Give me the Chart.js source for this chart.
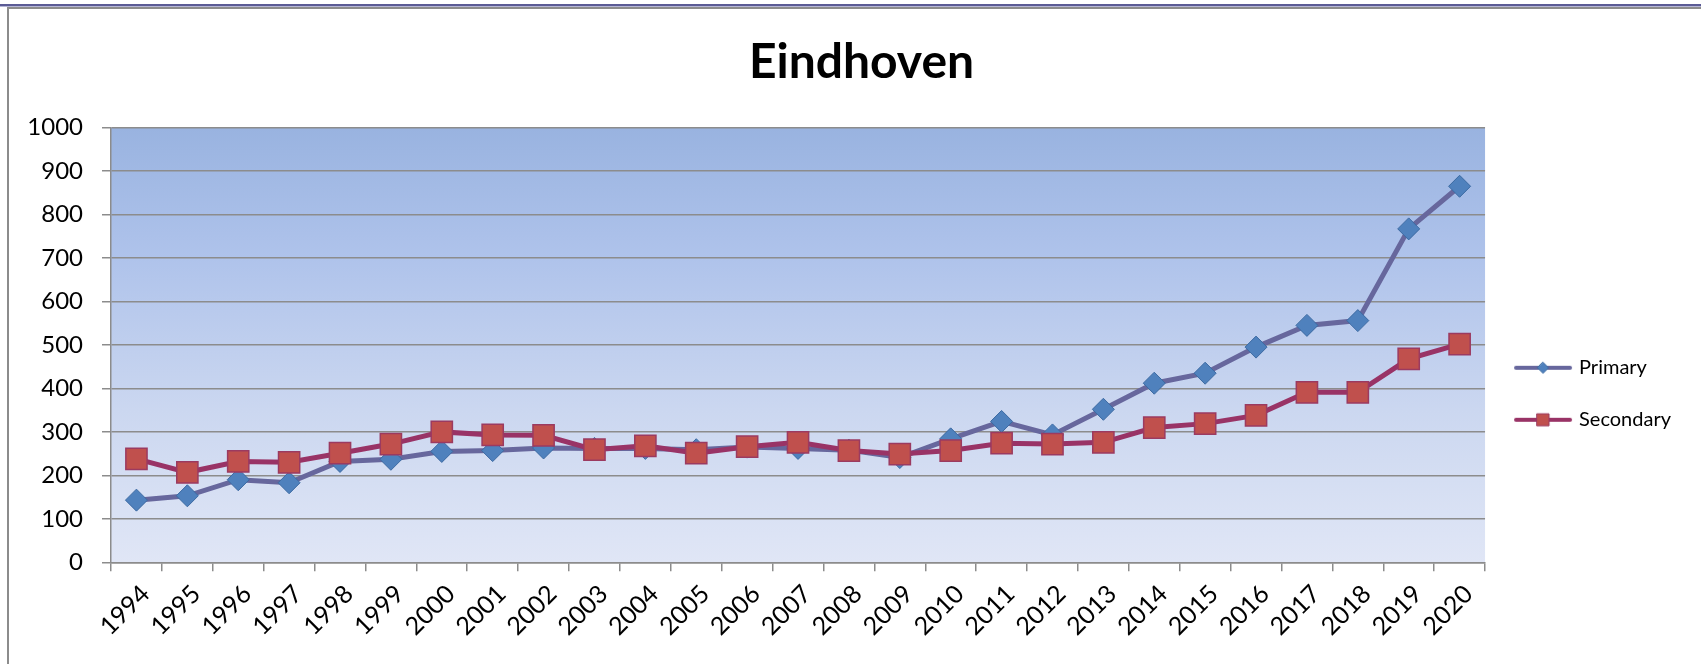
<!DOCTYPE html>
<html><head><meta charset="utf-8">
<script src="https://cdn.jsdelivr.net/npm/chart.js@4/dist/chart.umd.min.js"></script>
<style>
html,body{margin:0;padding:0;width:1701px;height:664px;overflow:hidden;background:#fff;}
#topbar{position:absolute;left:0;top:4px;width:1701px;height:2px;background:#5b5b95;}
#topbar2{position:absolute;left:0;top:6px;width:1701px;height:1px;background:#b6b6d6;}
#frame{position:absolute;left:7px;top:7px;width:1800px;height:800px;border:2px solid #8c8c8c;box-sizing:border-box;}
#c{position:absolute;left:7px;top:7px;}
</style></head>
<body>
<div id="topbar"></div><div id="topbar2"></div><div id="frame"></div>
<canvas id="c" width="1709" height="657"></canvas>
<script>
const years = ['1994','1995','1996','1997','1998','1999','2000','2001','2002','2003','2004','2005','2006','2007','2008','2009','2010','2011','2012','2013','2014','2015','2016','2017','2018','2019','2020'];
const primary = [143,153,190,183,232,237,255,257,263,262,262,259,265,262,258,241,284,324,293,352,412,435,495,545,556,767,865];
const secondary = [238,207,232,230,251,272,300,293,292,259,268,251,266,276,257,249,257,274,272,276,310,319,338,391,391,468,502];
const yMin = 0, yMax = 1000, yStep = 100;
const seriesNames = ['Primary','Secondary'];

const plotBg = {
  id: 'plotBg',
  beforeDraw(chart) {
    const {ctx, chartArea: {left, top, right, bottom}} = chart;
    const g = ctx.createLinearGradient(0, top, 0, bottom);
    g.addColorStop(0, '#99b3e0');
    g.addColorStop(0.3, '#afc3eb');
    g.addColorStop(0.65, '#cbd7f0');
    g.addColorStop(1, '#e0e6f6');
    ctx.save();
    ctx.fillStyle = g;
    ctx.fillRect(left, top, right - left, bottom - top);
    ctx.restore();
  }
};

function legendIcon(lineColor, shape, fill, stroke) {
  const c = document.createElement('canvas');
  c.width = 62; c.height = 16;
  const x = c.getContext('2d');
  x.strokeStyle = lineColor; x.lineWidth = 4; x.lineCap = 'round';
  x.beginPath(); x.moveTo(4, 8); x.lineTo(58, 8); x.stroke();
  x.fillStyle = fill; x.strokeStyle = stroke; x.lineWidth = 1;
  x.beginPath();
  if (shape === 'diamond') { x.moveTo(31, 2.5); x.lineTo(36.5, 8); x.lineTo(31, 13.5); x.lineTo(25.5, 8); x.closePath(); }
  else { x.rect(25, 2, 12, 12); }
  x.fill(); x.stroke();
  return c;
}

const styles = [
  {line: '#67679d', fill: '#4f81bd', stroke: '#3c6aa2', shape: 'diamond'},
  {line: '#993366', fill: '#c0504d', stroke: '#9b3a60', shape: 'square'}
];

new Chart(document.getElementById('c'), {
  type: 'line',
  data: {
    labels: years,
    datasets: [
      {label: seriesNames[0], data: primary, order: 1, borderColor: styles[0].line, borderWidth: 5,
       pointStyle: 'rectRot', pointRadius: 11, pointBackgroundColor: styles[0].fill,
       pointBorderColor: styles[0].stroke, pointBorderWidth: 1, tension: 0},
      {label: seriesNames[1], data: secondary, order: 0, borderColor: styles[1].line, borderWidth: 5,
       pointStyle: 'rect', pointRadius: 15, pointBackgroundColor: styles[1].fill,
       pointBorderColor: styles[1].stroke, pointBorderWidth: 1.5, tension: 0}
    ]
  },
  options: {
    responsive: false,
    animation: false,
    devicePixelRatio: 1,
    layout: {padding: 0},
    plugins: {
      tooltip: {enabled: false},
      title: {display: true, text: 'Eindhoven', color: '#000',
              font: {family: 'Lato', size: 48, weight: 'bold'}, padding: {top: 27, bottom: 36}},
      legend: {
        position: 'right', align: 'center', fullSize: false,
        title: {display: true, text: '', font: {size: 1}, padding: {top: 0, bottom: 96.5}},
        labels: {
          usePointStyle: true, pointStyleWidth: 52, padding: 32, color: '#000',
          font: {family: 'Lato', size: 20},
          generateLabels(chart) {
            return chart.data.datasets.map((ds, i) => ({
              text: ds.label, datasetIndex: i, hidden: false, fontColor: '#000',
              fillStyle: styles[i].fill, strokeStyle: styles[i].line, lineWidth: 0,
              pointStyle: legendIcon(styles[i].line, styles[i].shape, styles[i].fill, styles[i].stroke)
            }));
          }
        }
      }
    },
    scales: {
      x: {
        offset: true,
        grid: {offset: true, drawOnChartArea: false, drawTicks: true, tickLength: 9, color: '#8c8c8c', lineWidth: 1.5},
        border: {color: '#8c8c8c', width: 1.5},
        ticks: {autoSkip: false, maxRotation: 45, minRotation: 45, color: '#000',
                font: {family: 'Lato', size: 25}, padding: 8, labelOffset: 9},
        afterFit(s) { s.height = 101.7; }
      },
      y: {
        min: yMin, max: yMax,
        grid: {color: '#8c8c8c', lineWidth: 1.5, tickLength: 9},
        border: {color: '#8c8c8c', width: 1.5},
        ticks: {stepSize: yStep, color: '#000', font: {family: 'Lato', size: 24}, padding: 19,
                callback: v => String(v)},
        afterFit(s) { s.width = 104; }
      },
      spacer: {
        type: 'linear', position: 'right', weight: 2000, display: true,
        grid: {display: false, drawTicks: false}, border: {display: false}, ticks: {display: false},
        afterFit(s) { s.width = 35; }
      }
    }
  },
  plugins: [plotBg]
});
</script>
</body></html>
